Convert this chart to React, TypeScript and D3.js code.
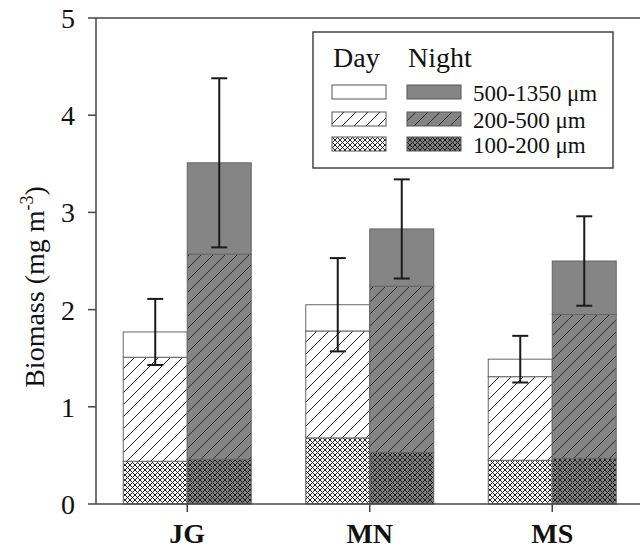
import React from "react";
import * as d3 from "d3";

const categories = ["JG", "MN", "MS"];
const periods = ["Day", "Night"];
const sizeKeys = ["small", "mid", "large"];

// segment values (mg m-3)
const daySmall = [0.44, 0.68, 0.45];
const dayMid = [1.07, 1.1, 0.86];
const dayLarge = [0.26, 0.27, 0.18];
const dayErr = [0.34, 0.48, 0.24];

const nightSmall = [0.46, 0.53, 0.47];
const nightMid = [2.11, 1.71, 1.48];
const nightLarge = [0.94, 0.59, 0.55];
const nightErr = [0.87, 0.51, 0.46];

const yTicks = [0, 1, 2, 3, 4, 5];
const legendLabels = ["500-1350 μm", "200-500 μm", "100-200 μm"];

const FONT = "'Liberation Serif', 'Times New Roman', Times, serif";

const W = 640;
const H = 550;
const left = 96;
const right = 643.5;
const top = 18;
const bottom = 504;

export default function App() {
  const rows = periods.map((p) => {
    const s = p === "Day" ? daySmall : nightSmall;
    const m = p === "Day" ? dayMid : nightMid;
    const l = p === "Day" ? dayLarge : nightLarge;
    const e = p === "Day" ? dayErr : nightErr;
    return categories.map((c, i) => ({ cat: c, period: p, small: s[i], mid: m[i], large: l[i], err: e[i] }));
  });

  const x = d3.scaleBand<string>().domain(categories).range([left, right]).paddingInner(0.2986).paddingOuter(0.1493);
  const xs = d3.scaleBand<string>().domain(periods).range([0, x.bandwidth()]).padding(0);
  const y = d3.scaleLinear().domain([0, 5]).range([bottom, top]);

  const stack = d3.stack<any>().keys(sizeKeys);
  const fillFor = (period: string, key: string) => {
    const d = period === "Day";
    if (key === "small") return d ? "url(#xDay)" : "url(#xNight)";
    if (key === "mid") return d ? "url(#hDay)" : "url(#hNight)";
    return d ? "#ffffff" : "#858585";
  };

  const bars: any[] = [];
  const errs: any[] = [];
  rows.forEach((data, pi) => {
    const period = periods[pi];
    const series = stack(data);
    series.forEach((s) => {
      s.forEach((pt, i) => {
        const bx = (x(categories[i]) as number) + (xs(period) as number);
        bars.push(
          <rect
            key={`${period}-${s.key}-${i}`}
            x={bx}
            y={y(pt[1])}
            width={xs.bandwidth()}
            height={y(pt[0]) - y(pt[1])}
            fill={fillFor(period, s.key)}
            stroke="#666"
            strokeWidth={1}
          />
        );
      });
    });
    data.forEach((d, i) => {
      const total = d.small + d.mid + d.large;
      const cx = (x(categories[i]) as number) + (xs(period) as number) + xs.bandwidth() / 2;
      const y1 = y(total + d.err);
      const y0 = y(total - d.err);
      errs.push(
        <g key={`err-${period}-${i}`} stroke="#1a1a1a" strokeWidth={2}>
          <line x1={cx} x2={cx} y1={y1} y2={y0} />
          <line x1={cx - 8} x2={cx + 8} y1={y1} y2={y1} />
          <line x1={cx - 8} x2={cx + 8} y1={y0} y2={y0} />
        </g>
      );
    });
  });

  // legend
  const legX = 313, legY = 32, legW = 300, legH = 136;
  const swW = 54, swH = 14;
  const col1 = 332, col2 = 407;
  const rowY = [85, 112, 137];
  const legendKeys = ["large", "mid", "small"];

  return (
    <svg width={W} height={H} style={{ position: "absolute", left: 0, top: 0, background: "#fff" }} fontFamily={FONT}>
      <defs>
        <pattern id="hDay" patternUnits="userSpaceOnUse" width={12} height={12}>
          <rect width={12} height={12} fill="#fff" />
          <path d="M0,12 L12,0 M-3,3 L3,-3 M9,15 L15,9" stroke="#222" strokeWidth={1} />
        </pattern>
        <pattern id="hNight" patternUnits="userSpaceOnUse" width={12} height={12}>
          <rect width={12} height={12} fill="#858585" />
          <path d="M0,12 L12,0 M-3,3 L3,-3 M9,15 L15,9" stroke="#2a2a2a" strokeWidth={1} />
        </pattern>
        <pattern id="xDay" patternUnits="userSpaceOnUse" width={5} height={5}>
          <rect width={5} height={5} fill="#fff" />
          <path d="M0,0 L5,5 M0,5 L5,0" stroke="#222" strokeWidth={1} />
        </pattern>
        <pattern id="xNight" patternUnits="userSpaceOnUse" width={5} height={5}>
          <rect width={5} height={5} fill="#808080" />
          <path d="M0,0 L5,5 M0,5 L5,0" stroke="#1a1a1a" strokeWidth={1} />
        </pattern>
      </defs>

      {bars}
      {errs}

      {/* axes */}
      <g stroke="#444" strokeWidth={1.5} fill="none">
        <line x1={left} x2={left} y1={top} y2={bottom} />
        <line x1={left} x2={W} y1={bottom} y2={bottom} />
        <line x1={left} x2={W} y1={top} y2={top} />
        {yTicks.map((t) => (
          <line key={`yt${t}`} x1={left - 8} x2={left} y1={y(t)} y2={y(t)} />
        ))}
        {categories.map((c) => (
          <line key={`xt${c}`} x1={(x(c) as number) + x.bandwidth() / 2} x2={(x(c) as number) + x.bandwidth() / 2} y1={bottom} y2={bottom + 8} />
        ))}
      </g>
      {yTicks.map((t) => (
        <text key={`yl${t}`} x={75} y={y(t) + 10} fontSize={28} textAnchor="end" fill="#111">
          {t}
        </text>
      ))}
      {categories.map((c) => (
        <text key={`xl${c}`} x={(x(c) as number) + x.bandwidth() / 2} y={543} fontSize={28} fontWeight="bold" textAnchor="middle" fill="#111">
          {c}
        </text>
      ))}
      <text transform={`translate(44,${(top + bottom) / 2 + 26}) rotate(-90)`} fontSize={28} textAnchor="middle" fill="#111">
        Biomass (mg m
        <tspan fontSize={18} dy={-11}>-3</tspan>
        <tspan dy={11}>)</tspan>
      </text>

      {/* legend */}
      <rect x={legX} y={legY} width={legW} height={legH} fill="#fff" stroke="#444" strokeWidth={1.5} />
      <text x={333} y={67} fontSize={28} fill="#111">Day</text>
      <text x={408} y={67} fontSize={28} fill="#111">Night</text>
      {legendKeys.map((k, i) => (
        <g key={`leg${k}`}>
          <rect x={col1} y={rowY[i]} width={swW} height={swH} fill={fillFor("Day", k)} stroke="#555" strokeWidth={1} />
          <rect x={col2} y={rowY[i]} width={swW} height={swH} fill={fillFor("Night", k)} stroke="#555" strokeWidth={1} />
          <text x={473} y={rowY[i] + 16} fontSize={23} fill="#111">{legendLabels[i]}</text>
        </g>
      ))}
    </svg>
  );
}
